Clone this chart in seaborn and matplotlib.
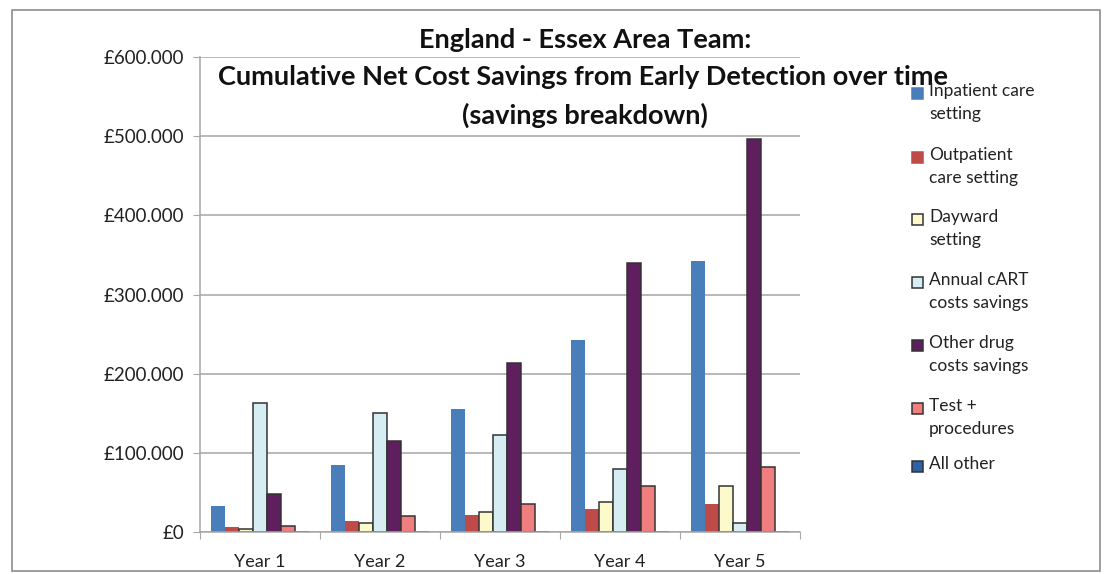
import matplotlib
matplotlib.use("Agg")
import matplotlib.pyplot as plt
import seaborn as sns
import pandas as pd
from matplotlib.patches import Rectangle
from matplotlib.ticker import FuncFormatter

years = ["Year 1", "Year 2", "Year 3", "Year 4", "Year 5"]
series = ["Inpatient care\nsetting", "Outpatient\ncare setting", "Dayward\nsetting",
          "Annual cART\ncosts savings", "Other drug\ncosts savings", "Test +\nprocedures", "All other"]
inpatient = [33000, 85000, 155000, 242500, 342000]
outpatient = [6500, 14000, 21500, 29000, 36000]
dayward = [4000, 11500, 25000, 38500, 57500]
cart = [163000, 150000, 123000, 79000, 11000]
other_drug = [48000, 115000, 213000, 340000, 496000]
tests = [8000, 20000, 36000, 57500, 82500]
all_other = [0, 0, 0, 0, 0]

colors = ["#4A7EBB", "#BE4B48", "#FCF9CB", "#D5EDF3", "#5F1F5F", "#F07E7E", "#2E62A6"]
edges = ["none", "none", "#333333", "#333333", "#333333", "#333333", "#333333"]

values = [inpatient, outpatient, dayward, cart, other_drug, tests, all_other]
rows = []
for s, vals in zip(series, values):
    for y, v in zip(years, vals):
        rows.append({"year": y, "series": s, "value": v})
df = pd.DataFrame(rows)

sns.set_style("white")
plt.rcParams['font.family'] = ['Lato', 'DejaVu Sans']

W, H = 1105, 574
fig = plt.figure(figsize=(W / 100, H / 100), dpi=100)
ax = fig.add_axes([200/W, 42/H, 600/W, 475/H])

sns.barplot(data=df, x="year", y="value", hue="series", order=years, hue_order=series,
            palette=colors, width=0.82, ax=ax, legend=False, saturation=1)

for cont, ec in zip(ax.containers, edges):
    for p in cont.patches:
        if ec == "none":
            p.set_edgecolor("none")
        else:
            p.set_edgecolor(ec)
            p.set_linewidth(1.1)

ax.set_ylim(0, 600000)
ax.set_xlim(-0.5, 4.5)
ax.set_yticks(range(0, 600001, 100000))
ax.yaxis.set_major_formatter(FuncFormatter(lambda v, p: "£0" if v == 0 else "£" + f"{v:,.0f}".replace(",", ".")))
ax.yaxis.grid(True, color="#A6A6A6", linewidth=1.1)
ax.set_axisbelow(True)
ax.set_xticks([i - 0.5 for i in range(6)])
ax.set_xticklabels([])
ax.set_xticks(range(5), minor=True)
ax.set_xticklabels(years, minor=True)
ax.tick_params(axis="x", which="major", length=5, color="#A6A6A6", direction="out", bottom=True)
ax.tick_params(axis="x", which="minor", length=0, pad=16, labelsize=13, colors="#222222")
ax.tick_params(axis="y", length=5, color="#A6A6A6", direction="out", left=True, labelsize=13.5,
               labelcolor="#222222", pad=6.5)
for sp in ["top", "right"]:
    ax.spines[sp].set_visible(False)
for sp in ["left", "bottom"]:
    ax.spines[sp].set_color("#A6A6A6")
    ax.spines[sp].set_linewidth(1.1)
ax.set_xlabel("")
ax.set_ylabel("")

title_lines = ["England - Essex Area Team:",
               "Cumulative Net Cost Savings from Early Detection over time",
               "(savings breakdown)"]
for line, (xc, yc) in zip(title_lines, [(585, 40), (583, 77), (585, 115)]):
    fig.text(xc / W, 1 - yc / H, line, ha="center", va="center", fontsize=19.5,
             fontweight="bold", color="#111111")

# legend drawn manually so the swatch aligns with the first text line
leg_y = [93, 157, 219, 282, 345, 408, 466]
for lab, c, e, yc in zip(series, colors, edges, leg_y):
    fig.patches.append(Rectangle((912 / W, 1 - (yc + 5.5) / H), 11 / W, 11 / H, transform=fig.transFigure,
                                 facecolor=c, edgecolor=(c if e == "none" else e), linewidth=1.1))
    fig.text(929 / W, 1 - (yc - 10) / H, lab, ha="left", va="top", fontsize=12.5,
             color="#222222", linespacing=1.55)

fig.patches.append(Rectangle((12/W, 1 - 571/H), 1088/W, 561/H, transform=fig.transFigure,
                             fill=False, edgecolor="#8C8C8C", linewidth=1.2))

fig.savefig("out.png", dpi=100)
